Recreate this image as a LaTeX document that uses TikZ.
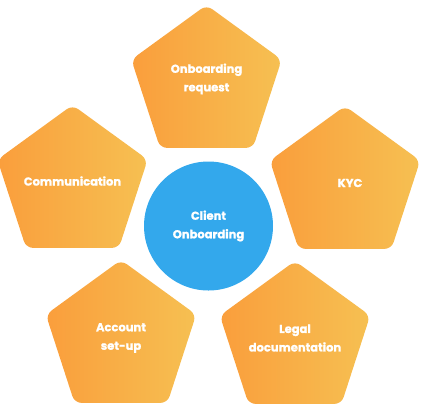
\documentclass[tikz,border=0pt]{standalone}
\usepackage{fontspec}
\setmainfont{Poppins}[BoldFeatures={FakeBold=1.2}]
\usetikzlibrary{shapes.geometric}
\definecolor{orL}{RGB}{250,158,60}
\definecolor{orR}{RGB}{246,192,82}
\definecolor{blu}{RGB}{51,168,236}
\tikzset{
  penta/.style={regular polygon, regular polygon sides=5, minimum size=158pt, inner sep=0pt,
    rounded corners=7pt, left color=orL, right color=orR, draw=none},
  lab/.style={text=white, font=\bfseries\fontsize{11.5}{18.5}\selectfont, align=center},
}
\begin{document}
\begin{tikzpicture}[x=1pt,y=-1pt]
\useasboundingbox (0,0) rectangle (422,408);
\node[penta] (req) at (206.5,84) {};
\node[penta] (com) at (72.5,184) {};
\node[penta] (kyc) at (345,185) {};
\node[penta] (acc) at (121,339) {};
\node[penta] (leg) at (295,340) {};
\node[circle, fill=blu, minimum size=129pt, inner sep=0pt] (cli) at (208.5,226) {};
\node[lab] (treq) at (206.5,79) {Onboarding\\request};
\node[lab] (tcom) at (72.5,181) {Communication};
\node[lab] (tkyc) at (350,183) {KYC};
\node[lab] (tacc) at (121,338) {Account\\set-up};
\node[lab] (tleg) at (295,338) {Legal\\documentation};
\node[lab] (tcli) at (208.5,226) {Client\\Onboarding};
\end{tikzpicture}
\end{document}
